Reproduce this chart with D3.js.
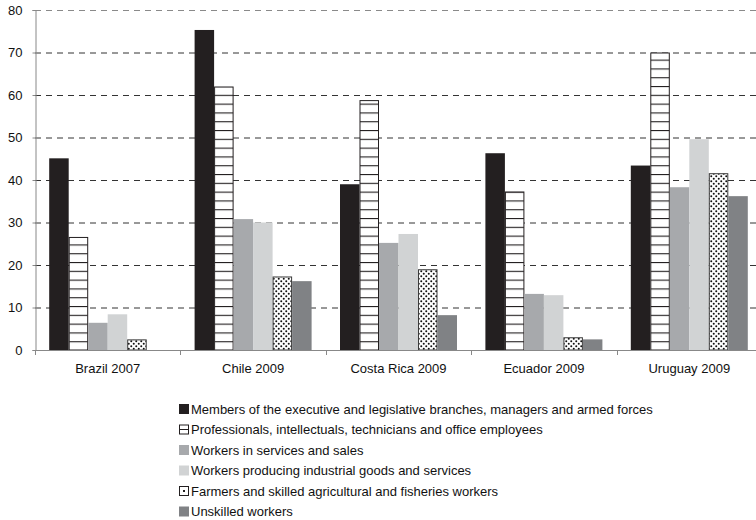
<!DOCTYPE html>
<html><head><meta charset="utf-8">
<script src="https://cdn.jsdelivr.net/npm/d3@7"></script>
<style>body{margin:0;background:#fff;} text{font-family:"Liberation Sans",Arial,sans-serif;}</style>
</head><body>
<svg id="c" width="756" height="520"></svg>
<script>
const categories = ["Brazil 2007","Chile 2009","Costa Rica 2009","Ecuador 2009","Uruguay 2009"];
const seriesNames = [
  "Members of the executive and legislative branches, managers and armed forces",
  "Professionals, intellectuals, technicians and office employees",
  "Workers in services and sales",
  "Workers producing industrial goods and services",
  "Farmers and skilled agricultural and fisheries workers",
  "Unskilled workers"
];
const executives   = [45.1, 75.3, 39.0, 46.3, 43.4];
const professionals= [26.6, 62.0, 58.8, 37.3, 70.0];
const services     = [6.4, 30.8, 25.2, 13.2, 38.3];
const industrial   = [8.4, 30.0, 27.3, 12.9, 49.6];
const farmers      = [2.5, 17.3, 19.0, 3.0, 41.6];
const unskilled    = [0, 16.2, 8.2, 2.5, 36.2];
const yTicks = [0,10,20,30,40,50,60,70,80];

const series = [executives, professionals, services, industrial, farmers, unskilled];
const fills = ["#231f20","url(#hlines)","#a7a9ac","#d1d3d4","url(#dots)","#808285"];
const strokes = ["none","#231f20","none","none","#3a3a3a","none"];

const svg = d3.select("#c");
const defs = svg.append("defs");
const hp = defs.append("pattern").attr("id","hlines").attr("patternUnits","userSpaceOnUse")
  .attr("width",10).attr("height",8.8).attr("y",350);
hp.append("rect").attr("width",10).attr("height",8.8).attr("fill","#fff");
hp.append("rect").attr("y",0).attr("width",10).attr("height",1.1).attr("fill","#231f20");
const dp = defs.append("pattern").attr("id","dots").attr("patternUnits","userSpaceOnUse")
  .attr("width",5).attr("height",5);
dp.append("rect").attr("width",5).attr("height",5).attr("fill","#fff");
dp.append("circle").attr("cx",1.25).attr("cy",1.25).attr("r",1).attr("fill","#111");
dp.append("circle").attr("cx",3.75).attr("cy",3.75).attr("r",1).attr("fill","#111");

const mLeft=35, mRight=762, mTop=10, mBottom=350;
const x = d3.scaleBand().domain(categories).range([mLeft,mRight]).paddingInner(0).paddingOuter(0);
const y = d3.scaleLinear().domain([0,80]).range([mBottom,mTop]);
const xs = d3.scaleBand().domain(d3.range(series.length)).range([14.2, x.bandwidth()-14.2]);

// gridlines
svg.append("g").selectAll("line").data(yTicks.filter(d=>d>0)).join("line")
  .attr("x1",mLeft).attr("x2",mRight).attr("y1",d=>y(d)+0.5).attr("y2",d=>y(d)+0.5)
  .attr("stroke",d=>d===80?"#8a8a8a":"#333").attr("stroke-width",1).attr("stroke-dasharray","6,5");

// bars
series.forEach((vals,si)=>{
  const st = strokes[si]!=="none";
  svg.append("g").selectAll("rect").data(vals.map((v,i)=>({v,c:categories[i]})).filter(d=>d.v>0)).join("rect")
    .attr("x",d=>x(d.c)+xs(si)+(st?0.5:0))
    .attr("width",xs.bandwidth()-(st?1:0))
    .attr("y",d=>y(d.v)+(st?0.5:0))
    .attr("height",d=>y(0)-y(d.v)-(st?0.5:0))
    .attr("fill",fills[si]).attr("stroke",strokes[si]).attr("stroke-width",1);
});

// y axis
const ya = svg.append("g").attr("transform",`translate(${mLeft+0.5},0)`)
  .call(d3.axisLeft(y).tickValues(yTicks).tickSize(3).tickPadding(10));
ya.select(".domain").attr("stroke","#888");
ya.selectAll(".tick line").attr("stroke","#888");
ya.selectAll("text").attr("font-size",13).attr("fill","#111").attr("font-family","Liberation Sans, Arial, sans-serif");

// x axis
const xa = svg.append("g").attr("transform",`translate(0,${mBottom+0.5})`)
  .call(d3.axisBottom(x).tickSize(0).tickPadding(13));
xa.select(".domain").attr("stroke","#888").attr("d",`M${mLeft},0H${mRight}`);
xa.selectAll("text").attr("font-size",13).attr("fill","#111").attr("font-family","Liberation Sans, Arial, sans-serif");
svg.append("g").selectAll("line").data(categories.concat(["end"])).join("line")
  .attr("x1",(d,i)=>Math.round(mLeft+i*x.bandwidth())+0.5).attr("x2",(d,i)=>Math.round(mLeft+i*x.bandwidth())+0.5)
  .attr("y1",mBottom).attr("y2",mBottom+5).attr("stroke","#888");

// legend
const lg = svg.append("g").attr("transform","translate(179,404)");
seriesNames.forEach((name,i)=>{
  const g = lg.append("g").attr("transform",`translate(0,${i*20.5})`);
  if(i===1){
    g.append("rect").attr("x",0.5).attr("y",0.5).attr("width",9).attr("height",9).attr("fill","#fff").attr("stroke","#231f20");
    g.append("line").attr("x1",0.5).attr("x2",9.5).attr("y1",5).attr("y2",5).attr("stroke","#231f20");
  } else if(i===4){
    g.append("rect").attr("x",0.5).attr("y",0.5).attr("width",9).attr("height",9).attr("fill","#fff").attr("stroke","#231f20");
    g.append("rect").attr("x",4).attr("y",4).attr("width",2).attr("height",2).attr("fill","#231f20");
  } else {
    g.append("rect").attr("width",10).attr("height",10).attr("fill",fills[i]);
  }
  g.append("text").attr("x",12).attr("y",9.5).attr("font-size",13).attr("fill","#111").text(name);
});
</script>
</body></html>
